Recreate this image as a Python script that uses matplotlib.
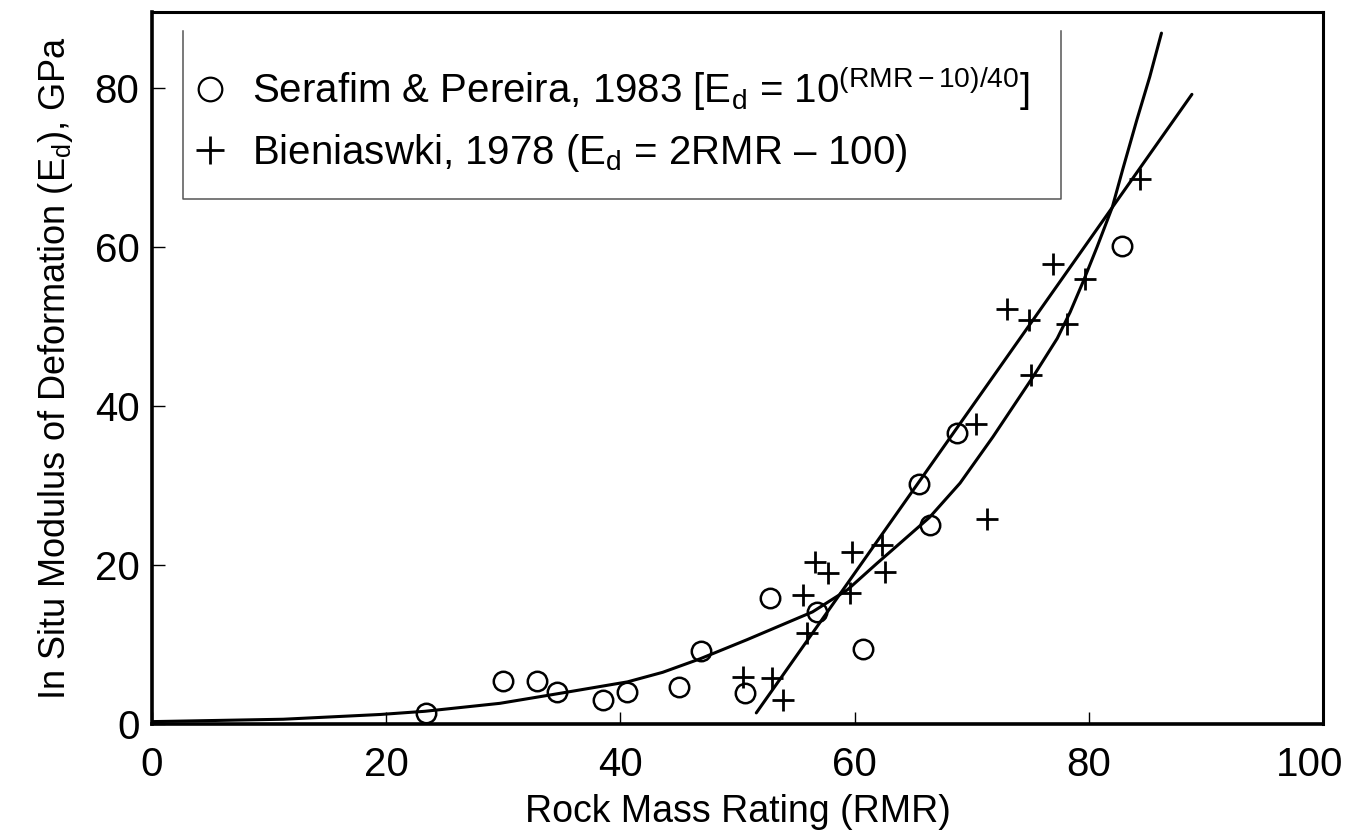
import numpy as np
import matplotlib
matplotlib.use("Agg")
import matplotlib.pyplot as plt
import matplotlib.transforms as mtransforms
from matplotlib.lines import Line2D

plt.rcParams['font.family'] = ['Liberation Sans', 'DejaVu Sans']
plt.rcParams['mathtext.fontset'] = 'custom'
plt.rcParams['mathtext.rm'] = 'Liberation Sans'
plt.rcParams['mathtext.it'] = 'Liberation Sans:italic'

# Serafim & Pereira (1983) - kružky
serafim_rmr = [23.4, 30.0, 32.9, 34.6, 38.5, 40.6, 45.0, 46.9, 50.6, 52.8,
               56.8, 60.7, 65.5, 66.4, 68.7, 82.8]
serafim_ed = [1.4, 5.4, 5.4, 4.0, 3.0, 4.0, 4.7, 9.2, 3.9, 15.8,
              14.1, 9.4, 30.2, 25.0, 36.6, 60.1]

# Bieniawski (1978) - křížky
bien_rmr = [50.5, 52.9, 53.9, 55.6, 55.9, 56.6, 57.7, 59.6, 59.8, 62.3,
            62.6, 70.4, 71.3, 73.0, 74.9, 75.1, 76.9, 78.1, 79.7, 84.4]
bien_ed = [5.9, 5.8, 3.0, 16.2, 11.4, 20.4, 19.0, 16.5, 21.6, 22.5,
           19.1, 37.7, 25.8, 52.2, 50.8, 43.9, 57.9, 50.3, 56.0, 68.6]

# křivka Ed = 10^((RMR-10)/40)
curve_rmr = [0.0, 11.2, 19.5, 23.3, 29.7, 34.6, 40.6, 43.6, 46.8, 50.8, 56.4,
             59.4, 61.9, 63.3, 66.4, 69.0, 71.8, 75.2, 77.3, 78.4, 79.5,
             80.7, 82.0, 82.9, 84.1, 85.2, 86.2]
curve_ed = [0.3, 0.6, 1.2, 1.6, 2.6, 3.8, 5.3, 6.5, 8.2, 10.6, 14.1,
            16.9, 20.2, 22.0, 26.0, 30.3, 36.1, 43.6, 48.5, 51.8, 55.6,
            60.0, 65.0, 69.8, 76.0, 81.4, 86.9]

# přímka Ed = 2RMR - 100
line_rmr = [51.6, 88.8]
line_ed = [1.4, 79.2]

x_ticks = [0, 20, 40, 60, 80, 100]
y_ticks = [0, 20, 40, 60, 80]

fig = plt.figure(figsize=(13.48, 8.32), dpi=100)
ax = fig.add_axes([0.1128, 0.1298, 0.8687, 0.8558])

ax.plot(curve_rmr, curve_ed, color='black', linewidth=2.2,
        solid_capstyle='round', solid_joinstyle='round')
ax.plot(line_rmr, line_ed, color='black', linewidth=2.2, solid_capstyle='round')

ax.plot(serafim_rmr, serafim_ed, linestyle='none', marker='o', markersize=14,
        markerfacecolor='none', markeredgecolor='black', markeredgewidth=1.8)
ax.plot(bien_rmr, bien_ed, linestyle='none', marker='+', markersize=16,
        markeredgecolor='black', markeredgewidth=2.0)

ax.set_xlim(0, 100)
ax.set_ylim(0, 89.56)
ax.set_xticks(x_ticks)
ax.set_yticks(y_ticks)
ax.tick_params(axis='both', direction='in', length=9, width=1.0, labelsize=29)
ax.tick_params(axis='x', pad=16)
ax.tick_params(axis='y', pad=9)

# poslední popisek osy x trochu doleva, aby se vešel
last = ax.get_xticklabels()[-1]
last.set_transform(last.get_transform() +
                   mtransforms.ScaledTranslation(-13 / 100, 0, fig.dpi_scale_trans))

for side in ['left', 'bottom']:
    ax.spines[side].set_linewidth(2.6)
for side in ['top', 'right']:
    ax.spines[side].set_linewidth(2.2)

ax.set_xlabel('Rock Mass Rating (RMR)', fontsize=27, labelpad=7)
ax.set_ylabel(r'In Situ Modulus of Deformation (E$_\mathregular{d}$), GPa',
              fontsize=26, labelpad=14)

# legenda
handles = [
    Line2D([], [], linestyle='none', marker='o', markersize=17,
           markerfacecolor='none', markeredgecolor='black', markeredgewidth=1.6),
    Line2D([], [], linestyle='none', marker='+', markersize=20,
           markeredgecolor='black', markeredgewidth=2.0),
]
labels = [
    r'Serafim & Pereira, 1983 [E$_\mathregular{d}$ = 10$^\mathregular{(RMR-10)/40}$]',
    r'Bieniaswki, 1978 (E$_\mathregular{d}$ = 2RMR – 100)',
]
ax.legend(handles, labels, loc='upper left', bbox_to_anchor=(0.02, 0.949),
          frameon=False, fontsize=29, handlelength=0.9, handletextpad=0.6,
          labelspacing=0.47, borderaxespad=0.0)

# rámeček legendy (bez horní hrany)
bx0, bx1, by0, by1 = 0.0265, 0.776, 0.737, 0.973
ax.add_line(Line2D([bx0, bx0, bx1, bx1], [by1, by0, by0, by1],
                   transform=ax.transAxes, color='#555555', linewidth=1.1))

fig.savefig('out.png', dpi=100)
